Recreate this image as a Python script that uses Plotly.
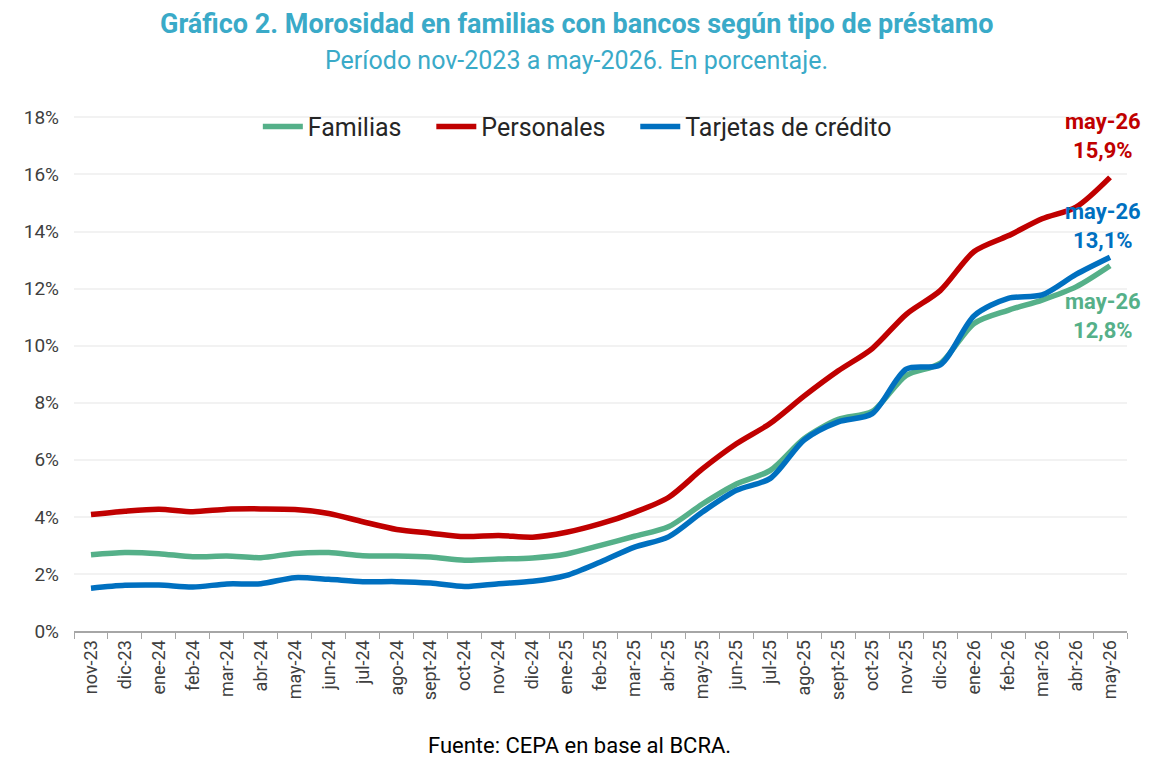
import plotly.graph_objects as go

# Datos (porcentaje de morosidad)
meses = ["nov-23", "dic-23", "ene-24", "feb-24", "mar-24", "abr-24", "may-24", "jun-24",
         "jul-24", "ago-24", "sept-24", "oct-24", "nov-24", "dic-24", "ene-25", "feb-25",
         "mar-25", "abr-25", "may-25", "jun-25", "jul-25", "ago-25", "sept-25", "oct-25",
         "nov-25", "dic-25", "ene-26", "feb-26", "mar-26", "abr-26", "may-26"]

familias = [2.67, 2.75, 2.71, 2.60, 2.63, 2.57, 2.72, 2.75, 2.64, 2.63, 2.59, 2.48, 2.52,
            2.56, 2.70, 3.00, 3.32, 3.65, 4.45, 5.15, 5.63, 6.75, 7.42, 7.70, 8.96, 9.38,
            10.78, 11.24, 11.60, 12.06, 12.80]

personales = [4.08, 4.20, 4.27, 4.18, 4.27, 4.28, 4.26, 4.12, 3.83, 3.56, 3.43, 3.31, 3.35,
              3.29, 3.46, 3.76, 4.16, 4.68, 5.68, 6.56, 7.28, 8.24, 9.12, 9.90, 11.10, 11.93,
              13.30, 13.85, 14.45, 14.86, 15.90]

tarjetas = [1.50, 1.60, 1.61, 1.54, 1.65, 1.66, 1.87, 1.81, 1.73, 1.73, 1.68, 1.56, 1.66,
            1.74, 1.95, 2.42, 2.94, 3.30, 4.17, 4.93, 5.35, 6.70, 7.33, 7.62, 9.18, 9.33,
            11.05, 11.66, 11.78, 12.50, 13.10]

y_ticks = [0, 2, 4, 6, 8, 10, 12, 14, 16, 18]

VERDE, ROJO, AZUL = "#55B089", "#C00000", "#0070C0"
TITULO = "#3AAAC8"
NBSP = "\u00a0" * 4  # separación entre items de la leyenda

fig = go.Figure()
for nombre, valores, color in [("Familias" + NBSP, familias, VERDE),
                               ("Personales" + NBSP, personales, ROJO),
                               ("Tarjetas de crédito", tarjetas, AZUL)]:
    fig.add_scatter(x=meses, y=valores, name=nombre, mode="lines",
                    line=dict(color=color, width=5.5, shape="spline", smoothing=0.8))

# Etiquetas del último dato
for valores, color, y_lbl in [(personales, ROJO, 17.35), (tarjetas, AZUL, 14.2), (familias, VERDE, 11.05)]:
    valor = f"{valores[-1]:.1f}%".replace(".", ",")
    fig.add_annotation(x=meses[-1], y=y_lbl, xref="x", yref="y", xshift=-7,
                       text=f"<b>{meses[-1]}</b><br><b>{valor}</b>",
                       showarrow=False, font=dict(family="Roboto", size=22, color=color),
                       align="center")

fig.add_annotation(text="<b>Gráfico 2. Morosidad en familias con bancos según tipo de préstamo</b>",
                   xref="paper", yref="paper", x=0.477, y=1.0, yanchor="middle", yshift=92,
                   showarrow=False, font=dict(family="Roboto", size=27, color=TITULO))
fig.add_annotation(text="Período nov-2023 a may-2026. En porcentaje.",
                   xref="paper", yref="paper", x=0.477, y=1.0, yanchor="middle", yshift=56,
                   showarrow=False, font=dict(family="Roboto", size=25, color=TITULO))
fig.add_annotation(text="Fuente: CEPA en base al BCRA.",
                   xref="paper", yref="paper", x=0.48, y=0, yanchor="middle", yshift=-114,
                   showarrow=False, font=dict(family="Roboto", size=22, color="#000000"))

fig.update_layout(
    width=1155, height=776,
    margin=dict(l=66, r=36, t=108, b=153),
    plot_bgcolor="white", paper_bgcolor="white",
    font=dict(family="Roboto", color="#404040"),
    legend=dict(orientation="h", x=0.478, xanchor="center", y=0.979, yanchor="middle",
                font=dict(size=25, color="#262626"), bgcolor="rgba(0,0,0,0)",
                itemwidth=40, tracegroupgap=0),
    showlegend=True,
)
fig.update_xaxes(type="category", range=[-0.5, len(meses) - 0.5], autorange=False,
                 tickangle=-90, tickfont=dict(size=18, color="#404040"),
                 showline=True, linecolor="#A6A6A6", linewidth=2, ticks="outside",
                 tickson="boundaries", ticklen=6, tickcolor="#A6A6A6", showgrid=False)
fig.update_yaxes(range=[0, 18.05], tickvals=y_ticks, ticktext=[f"{v}%" for v in y_ticks],
                 tickfont=dict(size=19, color="#404040"), showgrid=True, gridcolor="#F2F2F2",
                 gridwidth=1.5, zeroline=False, showline=False, ticks="",
                 ticklabelstandoff=14)

fig.write_html("out.html")
